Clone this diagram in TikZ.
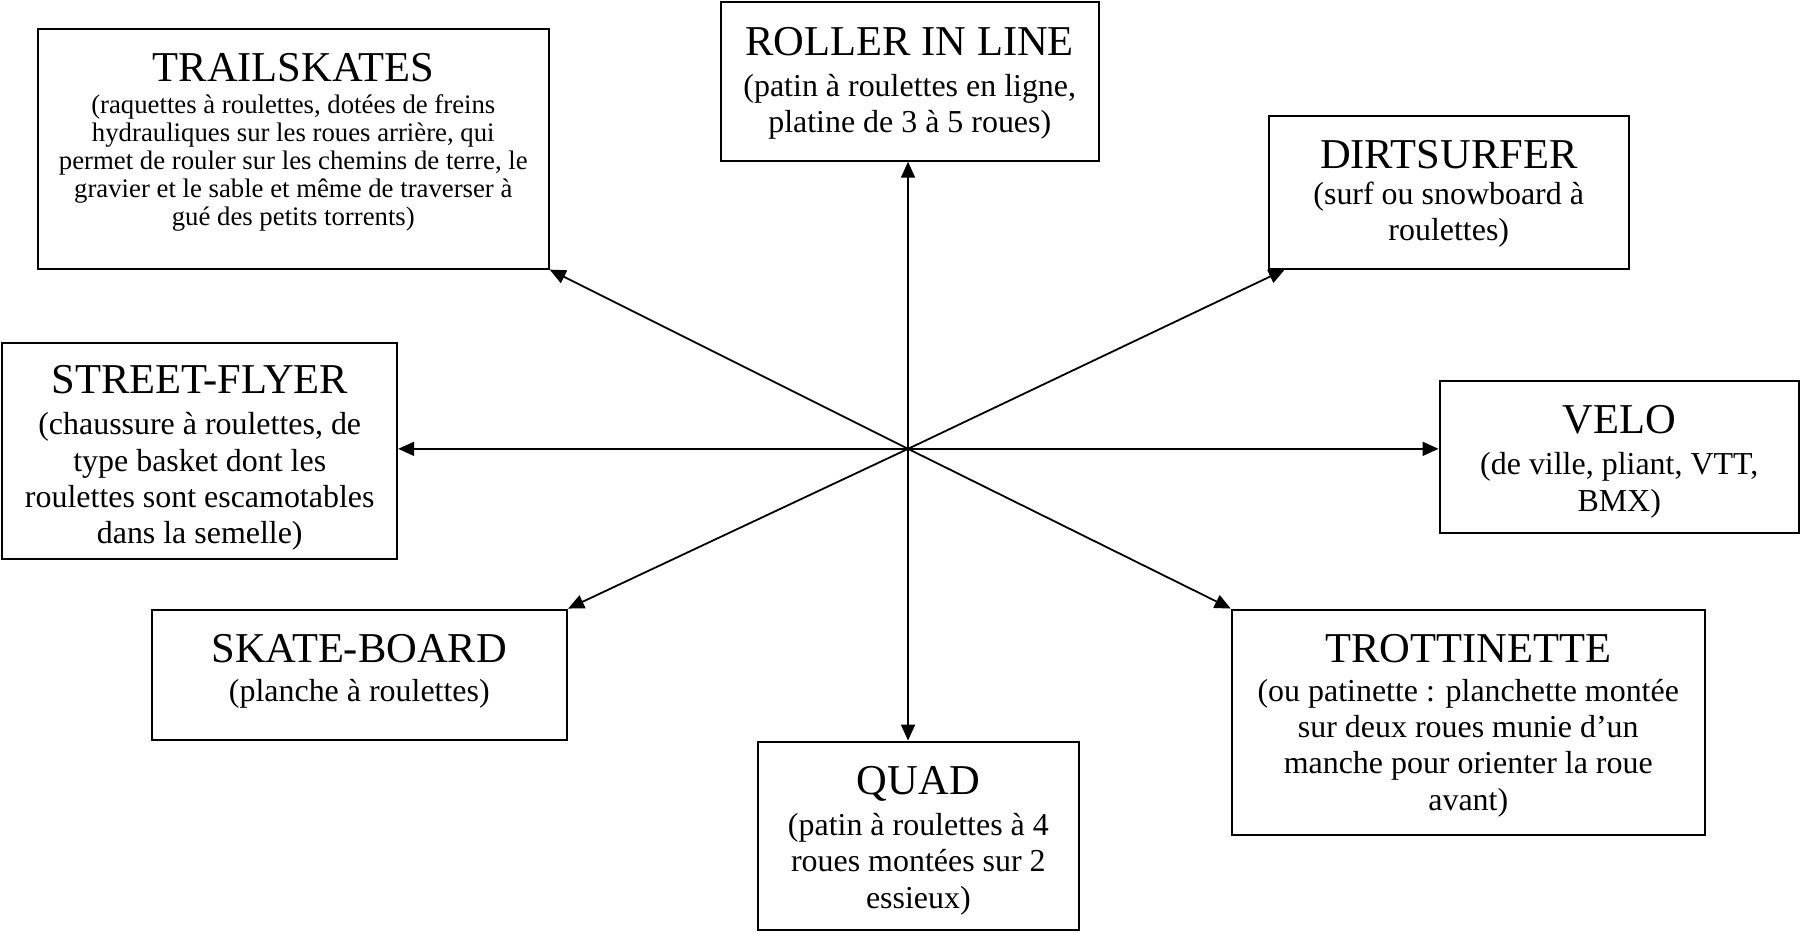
\documentclass[tikz,border=0pt]{standalone}
\usepackage{fontspec}
\setmainfont{Liberation Serif}
\usetikzlibrary{arrows.meta,fit,calc}
\begin{document}
\begin{tikzpicture}[x=0.575pt,y=-0.575pt,
  box/.style={draw,line width=1pt,inner sep=0pt},
  title/.style={anchor=base,inner sep=0pt,font=\fontsize{21.3}{24}\selectfont},
  body/.style={anchor=north,inner sep=0pt,align=center,font=\fontsize{16}{18.2}\selectfont},
  smallbody/.style={anchor=north,inner sep=0pt,align=center,font=\fontsize{13.4}{14}\selectfont},
  link/.style={line width=0.9pt,-{Triangle[length=8pt,width=7pt]}}]
\useasboundingbox (0,0) rectangle (1568,812);

% frames
\node[box,fit={(33,25)(478,234)}] (trail) {};
\node[box,fit={(628,2)(957,140)}] (roller) {};
\node[box,fit={(1105,101)(1419,234)}] (dirt) {};
\node[box,fit={(2,299)(346,487)}] (street) {};
\node[box,fit={(1254,332)(1567,464)}] (velo) {};
\node[box,fit={(132,531)(494,645)}] (skate) {};
\node[box,fit={(660,646)(940,810)}] (quad) {};
\node[box,fit={(1073,531)(1485,727)}] (trott) {};

% texts
\node[title] (trailT) at (255.5,71) {TRAILSKATES};
\node[smallbody] (trailB) at (255.5,82) {(raquettes à roulettes, dotées de freins\\hydrauliques sur les roues arrière, qui\\permet de rouler sur les chemins de terre, le\\gravier et le sable et même de traverser à\\gué des petits torrents)};

\node[title] (rollerT) at (792.5,48) {ROLLER IN LINE};
\node[body] (rollerB) at (792.5,64) {(patin à roulettes en ligne,\\platine de 3 à 5 roues)};

\node[title] (dirtT) at (1262,147) {DIRTSURFER};
\node[body] (dirtB) at (1262,158) {(surf ou snowboard à\\roulettes)};

\node[title] (streetT) at (174,343) {STREET-FLYER};
\node[body] (streetB) at (174,359) {(chaussure à roulettes, de\\type basket dont les\\roulettes sont escamotables\\dans la semelle)};

\node[title] (veloT) at (1410.5,378) {VELO};
\node[body] (veloB) at (1410.5,394) {(de ville, pliant, VTT,\\BMX)};

\node[title] (skateT) at (313,577) {SKATE-BOARD};
\node[body] (skateB) at (313,591) {(planche à roulettes)};

\node[title] (quadT) at (800,692) {QUAD};
\node[body] (quadB) at (800,708) {(patin à roulettes à 4\\roues montées sur 2\\essieux)};

\node[title] (trottT) at (1279,577) {TROTTINETTE};
\node[body] (trottB) at (1279,591) {(ou patinette : planchette montée\\sur deux roues munie d’un\\manche pour orienter la roue\\avant)};

% connectors
\coordinate (c) at (791,391);
\draw[link] (c) -- (roller.south -| c);
\draw[link] (c) -- (quad.north -| c);
\draw[link] (c) -- (street.east |- c);
\draw[link] (c) -- (velo.west |- c);
\draw[link] (c) -- (trail.south east);
\draw[link] (c) -- ($(dirt.south west)+(15,0)$);
\draw[link] (c) -- (skate.north east);
\draw[link] (c) -- (trott.north west);
\end{tikzpicture}
\end{document}
